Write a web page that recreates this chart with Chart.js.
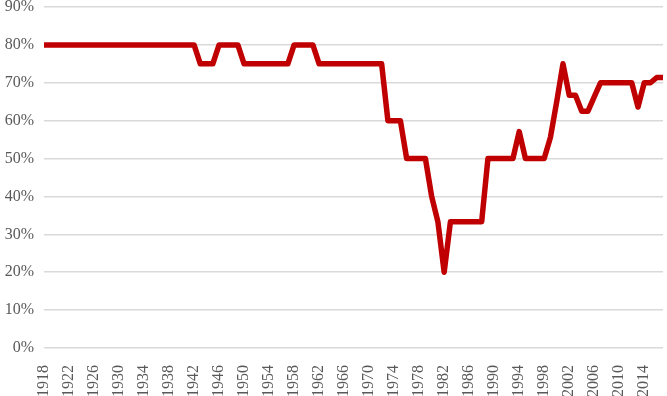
<!DOCTYPE html>
<html>
<head>
<meta charset="utf-8">
<script src="https://cdn.jsdelivr.net/npm/chart.js@4"></script>
<style>
  html, body { margin: 0; padding: 0; background: #fff; }
  #wrap { width: 667px; height: 396px; }
</style>
</head>
<body>
<div id="wrap"><canvas id="share-chart"></canvas></div>
<script>
// years 1918..2017, one point per year
const years = [];
for (let y = 1918; y <= 2017; y++) years.push(String(y));

// share (%) per year
const shareValues = [
    80, 80, 80, 80, 80, 80, 80, 80, 80, 80,           // 1918-1927
    80, 80, 80, 80, 80, 80, 80, 80, 80, 80,           // 1928-1937
    80, 80, 80, 80, 80, 75, 75, 75, 80, 80,           // 1938-1947
    80, 80, 75, 75, 75, 75, 75, 75, 75, 75,           // 1948-1957
    80, 80, 80, 80, 75, 75, 75, 75, 75, 75,           // 1958-1967
    75, 75, 75, 75, 75, 60, 60, 60, 50, 50,           // 1968-1977
    50, 50, 40, 33.3, 20, 33.3, 33.3, 33.3, 33.3, 33.3, // 1978-1987
    33.3, 50, 50, 50, 50, 50, 57.1, 50, 50, 50,       // 1988-1997
    50, 55.6, 65, 75, 66.7, 66.7, 62.5, 62.5, 66.3, 70, // 1998-2007
    70, 70, 70, 70, 70, 63.6, 70, 70, 71.4, 71.4      // 2008-2017
];

const yTicks = [0, 10, 20, 30, 40, 50, 60, 70, 80, 90];

const tickFont = { family: '"Liberation Serif", "Times New Roman", serif', size: 16 };

// drop the automatic label padding so the plot area sits where the picture has it
function noPad(axis) {
    axis.paddingTop = 0;
    axis.paddingBottom = 0;
    axis.paddingLeft = 0;
    axis.paddingRight = 0;
}

new Chart(document.querySelector('#share-chart').getContext('2d'), {
    type: 'line',
    data: {
        labels: years,
        datasets: [{
            data: shareValues,
            borderColor: '#c00000',
            backgroundColor: '#c00000',
            borderWidth: 5.5,
            borderJoinStyle: 'round',
            pointRadius: 0,
            tension: 0
        }]
    },
    options: {
        responsive: true,
        maintainAspectRatio: false,
        animation: false,
        layout: { padding: { top: 7, right: 4, bottom: 0, left: 0 } },
        plugins: { legend: { display: false }, tooltip: { enabled: false } },
        scales: {
            x: {
                offset: false,
                grid: { display: false },
                border: { display: false },
                ticks: {
                    autoSkip: false,
                    minRotation: 90,
                    maxRotation: 90,
                    padding: 9,
                    color: '#595959',
                    font: tickFont,
                    //only every 4th year gets a label
                    callback: (v, i) => (i % 4 === 0 ? years[i] : '')
                },
                afterFit: axis => { axis.height = 48; noPad(axis); }
            },
            y: {
                min: yTicks[0],
                max: yTicks[yTicks.length - 1],
                afterBuildTicks: axis => { axis.ticks = yTicks.map(v => ({ value: v })); },
                grid: { color: '#d9d9d9', lineWidth: 1.5, drawTicks: false },
                border: { display: false },
                ticks: {
                    padding: 10,
                    color: '#595959',
                    font: tickFont,
                    callback: v => v + '%'
                },
                afterFit: axis => { axis.width = 44; noPad(axis); }
            }
        }
    }
});
</script>
</body>
</html>
